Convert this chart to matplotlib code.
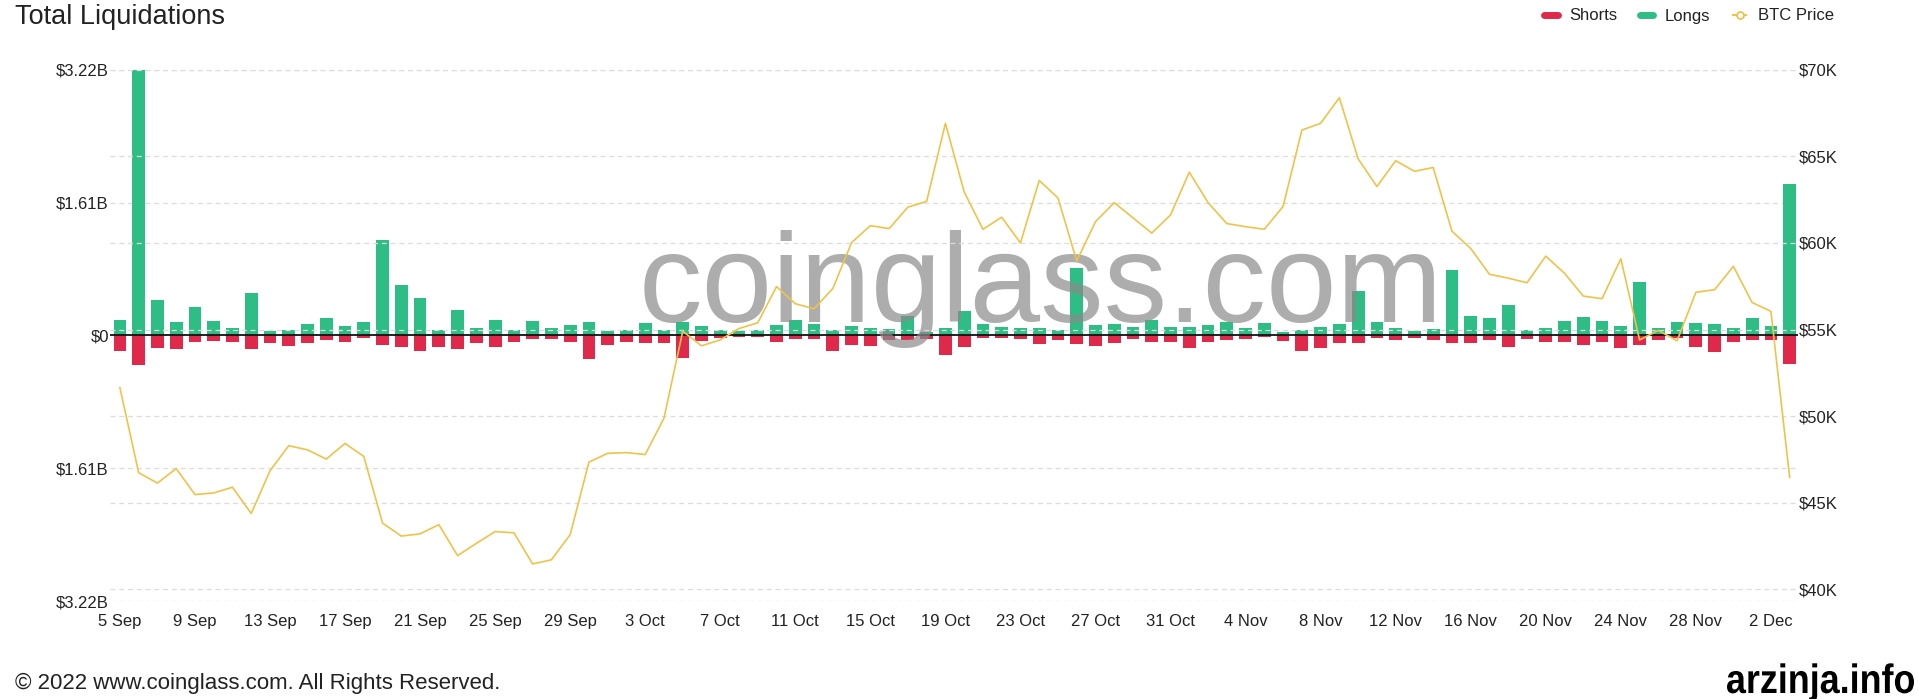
import matplotlib
matplotlib.use('Agg')
from matplotlib import pyplot as plt
from matplotlib.lines import Line2D
from matplotlib.textpath import TextPath
from matplotlib.patches import PathPatch
from matplotlib.font_manager import FontProperties
import matplotlib.transforms as mtransforms
import numpy as np
import pandas as pd

plt.rcParams['font.family'] = ['Liberation Sans', 'DejaVu Sans']

# daily data, 5 Sep -> 3 Dec
dates = pd.date_range('2021-09-05', periods=90, freq='D')

# liquidations in billions of USD
longs = [0.186, 3.22, 0.427, 0.158, 0.339, 0.176, 0.088, 0.51, 0.056, 0.07, 0.135, 0.213,
         0.111, 0.158, 1.16, 0.617, 0.455, 0.07, 0.311, 0.088, 0.19, 0.07, 0.172, 0.095,
         0.13, 0.158, 0.051, 0.07, 0.148, 0.065, 0.162, 0.111, 0.07, 0.051, 0.07, 0.13,
         0.181, 0.139, 0.06, 0.116, 0.088, 0.074, 0.237, 0.046, 0.088, 0.297, 0.139, 0.107,
         0.088, 0.088, 0.07, 0.82, 0.125, 0.139, 0.097, 0.181, 0.097, 0.107, 0.125, 0.158,
         0.088, 0.148, 0.037, 0.07, 0.102, 0.135, 0.538, 0.158, 0.088, 0.056, 0.079, 0.79,
         0.237, 0.209, 0.371, 0.07, 0.088, 0.172, 0.223, 0.176, 0.111, 0.645, 0.084, 0.158,
         0.148, 0.144, 0.093, 0.209, 0.111, 1.84]
shorts = [0.195, 0.357, 0.158, 0.162, 0.084, 0.065, 0.079, 0.162, 0.097, 0.13, 0.097, 0.051,
          0.079, 0.037, 0.116, 0.135, 0.19, 0.144, 0.162, 0.088, 0.144, 0.079, 0.042, 0.046,
          0.084, 0.288, 0.111, 0.079, 0.097, 0.088, 0.274, 0.07, 0.037, 0.014, 0.019, 0.084,
          0.042, 0.042, 0.186, 0.116, 0.125, 0.056, 0.056, 0.046, 0.241, 0.139, 0.037, 0.028,
          0.042, 0.107, 0.056, 0.107, 0.125, 0.097, 0.046, 0.074, 0.079, 0.148, 0.079, 0.056,
          0.042, 0.023, 0.065, 0.186, 0.153, 0.097, 0.088, 0.032, 0.056, 0.028, 0.06, 0.093,
          0.093, 0.06, 0.135, 0.042, 0.079, 0.079, 0.116, 0.084, 0.148, 0.116, 0.051, 0.037,
          0.144, 0.2, 0.079, 0.056, 0.051, 0.348]
# BTC price in thousands of USD
price = [51.64, 46.73, 46.13, 46.97, 45.47, 45.56, 45.89, 44.37, 46.84, 48.29, 48.05, 47.52,
         48.42, 47.67, 43.82, 43.07, 43.2, 43.73, 41.94, 42.65, 43.33, 43.26, 41.46, 41.7,
         43.15, 47.34, 47.85, 47.89, 47.78, 49.88, 54.9, 54.06, 54.4, 55.06, 55.39, 57.48,
         56.49, 56.2, 57.37, 60.02, 61.0, 60.83, 62.07, 62.4, 66.91, 62.95, 60.79, 61.49,
         60.0, 63.61, 62.6, 58.96, 61.23, 62.33, 61.45, 60.57, 61.62, 64.09, 62.33, 61.12,
         60.94, 60.79, 62.11, 66.52, 66.91, 68.39, 64.86, 63.26, 64.75, 64.14, 64.36, 60.68,
         59.68, 58.19, 57.97, 57.7, 59.24, 58.25, 56.93, 56.78, 59.09, 54.4, 54.95, 54.35,
         57.15, 57.3, 58.65, 56.56, 56.05, 46.46]

left_ticks = [-3.22, -1.61, 0, 1.61, 3.22]
left_labels = ['$3.22B', '$1.61B', '$0', '$1.61B', '$3.22B']
right_ticks = [40, 45, 50, 55, 60, 65, 70]

green = '#2ebd85'
red = '#e0294a'
yellow = '#efc24a'
txt = '#222222'

W, H = 1919, 699
fig = plt.figure(figsize=(W / 100, H / 100), dpi=100)


def stretched_text(s, x0, x1, baseline, em_h, **kw):
    # bold text drawn as a path, fitted to a pixel box (baseline measured from top)
    fp = FontProperties(family='Liberation Sans', weight='bold')
    tp = TextPath((0, 0), s, size=1, prop=fp)
    bb = tp.get_extents()
    tr = (mtransforms.Affine2D().translate(-bb.x0, 0)
          .scale((x1 - x0) / bb.width, em_h)
          .translate(x0, H - baseline).scale(1 / 100.0)
          + fig.dpi_scale_trans)
    fig.add_artist(PathPatch(tp, transform=tr, lw=0, clip_on=False, **kw))


ax = fig.add_axes([0.0573, 0.1402, 0.937 - 0.0573, 0.9001 - 0.1402])
x = np.arange(len(dates))

ax.bar(x, longs, width=0.68, color=green, zorder=2)
ax.bar(x, -np.array(shorts), width=0.68, color=red, zorder=2)
ax.axhline(0, color='#111111', lw=1.3, zorder=3)

ax.set_ylim(-3.22, 3.22)
ax.set_xlim(-0.53, 89.45)
ax.set_yticks(left_ticks)
ax.set_yticklabels(left_labels)
ax.set_xticks(x[::4])
ax.set_xticklabels([f'{d.day} {d.strftime("%b")}' for d in dates[::4]])
ax.tick_params(axis='both', length=0, labelsize=12, labelcolor=txt)
ax.tick_params(axis='y', pad=0.8)
ax.tick_params(axis='x', pad=9)
for s in ax.spines.values():
    s.set_visible(False)
ax.grid(axis='y', color='#dcdcdc', ls=(0, (4, 3)), lw=0.9, zorder=0)

# watermark, between the bars and the price line
ax.text(639 / W, 1 - 321.7 / H, 'coinglass.com', transform=fig.transFigure,
        ha='left', va='baseline', fontsize=91.4, color='#8a8a8a', alpha=0.7, zorder=4)

ax2 = ax.twinx()
ax2.plot(x, price, color=yellow, lw=1.2, zorder=5)
ax2.set_ylim(39.32, 70)
ax2.set_yticks(right_ticks)
ax2.set_yticklabels([f'${v}K' for v in right_ticks])
ax2.tick_params(axis='y', length=0, labelsize=12, labelcolor=txt, pad=0.8)
for s in ax2.spines.values():
    s.set_visible(False)
ax2.grid(axis='y', color='#dcdcdc', ls=(0, (4, 3)), lw=0.9)
ax2.set_axisbelow(True)

fig.text(15 / W, 1 - 17 / H, 'Total Liquidations', fontsize=19.5, color=txt, va='center')

handles = [Line2D([0], [0], color=red, lw=5, solid_capstyle='round'),
           Line2D([0], [0], color=green, lw=5, solid_capstyle='round'),
           Line2D([0], [0], color=yellow, lw=1.5, marker='o', markersize=5,
                  markerfacecolor='white', markeredgewidth=1.3)]
fig.legend(handles, ['Shorts', 'Longs', 'BTC Price'], loc='center right',
           bbox_to_anchor=(1849 / W, 1 - 16 / H), ncol=3, frameon=False,
           fontsize=12, handlelength=0.8, handletextpad=0.7, columnspacing=1.35,
           labelcolor=txt)

fig.text(15 / W, 1 - 683 / H, '\u00a9 2022 www.coinglass.com. All Rights Reserved.',
         fontsize=16, color=txt, va='center')
stretched_text('arzinja.info', 1727, 1914, 693, 41, facecolor='black')

fig.savefig('out.png', dpi=100)
